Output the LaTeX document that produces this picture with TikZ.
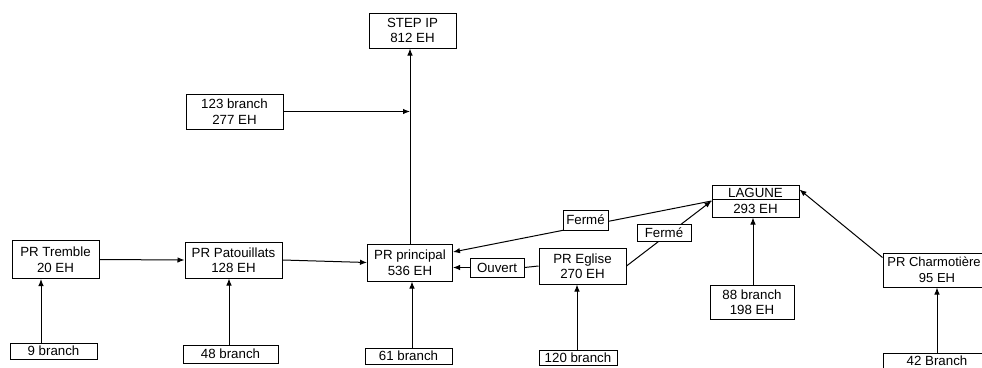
\documentclass[tikz,border=0pt]{standalone}
\usepackage{fontspec}
\setmainfont{Liberation Sans}
\usetikzlibrary{arrows.meta}
\begin{document}
\begin{tikzpicture}[x=1pt,y=-1pt,
  box/.style={draw, line width=1pt, fill=white, inner sep=0pt, align=center,
    font=\fontsize{13.3}{15.5}\selectfont},
  arr/.style={-{Latex[length=7pt,width=5.5pt]}, line width=1pt},
  ln/.style={line width=1pt}]
\clip (0,0) rectangle (982,367);
\fill[white] (0,0) rectangle (982,367);
% nodes
\node[box, minimum width=87pt, minimum height=35pt] (stepip) at (412.5,30.5) {STEP IP\\812 EH};
\node[box, minimum width=97pt, minimum height=35pt] (b123) at (234.5,111.5) {123 branch\\277 EH};
\node[box, minimum width=87pt, minimum height=38pt] (tremble) at (55.5,259.5) {PR Tremble\\20 EH};
\node[box, minimum width=97pt, minimum height=36pt] (patou) at (233.5,260) {PR Patouillats\\128 EH};
\node[box, minimum width=85pt, minimum height=37pt] (principal) at (410,262.5) {PR principal\\536 EH};
\node[box, minimum width=87pt, minimum height=16pt] (b9) at (53.5,351) {9 branch};
\node[box, minimum width=95pt, minimum height=18pt] (b48) at (230.5,354) {48 branch};
\node[box, minimum width=87pt, minimum height=16pt] (b61) at (408.5,356) {61 branch};
\node[box, minimum width=54pt, minimum height=19pt] (ouvert) at (497,267.5) {Ouvert};
\node[box, minimum width=87pt, minimum height=36pt] (eglise) at (582.5,266) {PR Eglise\\270 EH};
\node[box, minimum width=78pt, minimum height=15pt] (b120) at (578,357.5) {120 branch};
\node[box, minimum width=87pt, minimum height=32pt] (lagune) at (755.5,201) {LAGUNE\\293 EH};
\node[box, minimum width=84pt, minimum height=34pt] (b88) at (752,302) {88 branch\\198 EH};
\node[box, minimum width=108pt, minimum height=34pt, font=\fontsize{13}{15.5}\selectfont] (charm) at (937,270) {PR Charmotière\hspace*{6pt}\\95 EH};
\node[box, minimum width=108pt, inner ysep=2pt, text height=10pt, text depth=10pt, anchor=north] (b42) at (937,353) {42 Branch};
\draw[ln] ([yshift=2pt]lagune.west) -- ([yshift=2pt]lagune.east);
% connectors
\draw[arr] (principal.north) -- (principal.north |- stepip.south);
\coordinate (j) at (principal.north |- b123.east);
\draw[arr] (b123.east) -- (j);
\draw[arr] (tremble.east) -- (patou.west);
\draw[arr] (patou.east) -- (principal.west);
\draw[arr] ([xshift=-12.5pt]b9.north) -- ([xshift=-12.5pt]b9.north |- tremble.south);
\draw[arr] ([xshift=-1.5pt]b48.north) -- ([xshift=-1.5pt]b48.north |- patou.south);
\draw[arr] ([xshift=3.5pt]b61.north) -- ([xshift=3.5pt]b61.north |- principal.south);
\draw[arr] ([xshift=-1pt]b120.north) -- ([xshift=-1pt]b120.north |- eglise.south);
\draw[arr] ([xshift=1pt]b88.north) -- ([xshift=1pt]b88.north |- lagune.south);
\draw[arr] (b42.north) -- (charm.south);
\draw[ln] (eglise.west) -- (ouvert.east);
\draw[arr] (ouvert.west) -- (principal.east |- ouvert.west);
\draw[arr] (lagune.west) -- ([yshift=10.5pt]principal.east);
\draw[arr] (eglise.east) -- (lagune.west);
\draw[arr] ([yshift=-5pt]charm.north west) -- ([yshift=-5pt]lagune.north east);
% labels on lines
\node[box, minimum width=45pt, minimum height=20pt] (ferme1) at (585.5,220) {Fermé};
\node[box, minimum width=54pt, minimum height=17pt] (ferme2) at (664,232.5) {Fermé};
\end{tikzpicture}
\end{document}
